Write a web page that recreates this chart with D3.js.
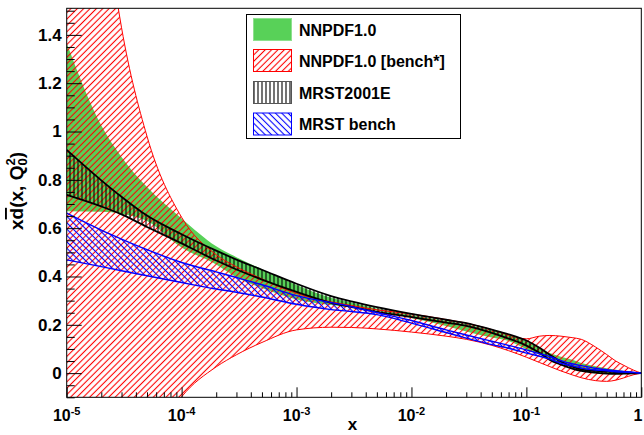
<!DOCTYPE html>
<html><head><meta charset="utf-8">
<script src="https://cdn.jsdelivr.net/npm/d3@7"></script>
<style>
body{margin:0;background:#fff}
svg{display:block}
text{font-family:"Liberation Sans",Arial,Helvetica,sans-serif;font-weight:bold;fill:#000}
</style>
</head><body>
<svg id="c" width="644" height="435"></svg>
<script>
// ---- data ----
const xValues = [1e-5, 2e-5, 3e-5, 5e-5, 1e-4, 2e-4, 3e-4, 5e-4, 1e-3, 2e-3, 3e-3, 5e-3, 0.01, 0.02, 0.03, 0.05, 0.07, 0.1, 0.13, 0.16, 0.2, 0.25, 0.3, 0.4, 0.5, 0.6, 0.7, 0.85, 1];

const nnpdfUpper = [1.365, 1.025, 0.895, 0.77, 0.64, 0.525, 0.48, 0.43, 0.365, 0.312, 0.292, 0.268, 0.24, 0.217, 0.202, 0.176, 0.162, 0.131, 0.103, 0.083, 0.068, 0.055, 0.042, 0.028, 0.02, 0.014, 0.009, 0.004, 0];
const nnpdfLower = [0.67, 0.668, 0.66, 0.63, 0.52, 0.45, 0.397, 0.352, 0.305, 0.282, 0.272, 0.258, 0.228, 0.195, 0.172, 0.147, 0.133, 0.099, 0.076, 0.055, 0.041, 0.025, 0.01, 0.0, -0.003, -0.003, -0.003, -0.001, 0];

const benchUpper = [3.2, 2.0, 1.43, 0.98, 0.645, 0.49, 0.44, 0.39, 0.33, 0.295, 0.28, 0.262, 0.245, 0.222, 0.207, 0.18, 0.158, 0.142, 0.153, 0.156, 0.153, 0.147, 0.14, 0.108, 0.077, 0.05, 0.033, 0.013, 0];
const benchLower = [-1.4, -0.85, -0.6, -0.33, -0.098, 0.026, 0.076, 0.127, 0.179, 0.19, 0.189, 0.183, 0.17, 0.153, 0.14, 0.115, 0.093, 0.066, 0.044, 0.027, 0.009, -0.007, -0.019, -0.031, -0.034, -0.029, -0.02, -0.007, 0];

const mrstUpper = [0.924, 0.798, 0.73, 0.652, 0.575, 0.507, 0.47, 0.428, 0.37, 0.319, 0.297, 0.273, 0.245, 0.221, 0.207, 0.18, 0.161, 0.135, 0.105, 0.076, 0.048, 0.027, 0.016, 0.009, 0.006, 0.004, 0.003, 0.001, 0];
const mrstLower = [0.738, 0.69, 0.657, 0.605, 0.537, 0.466, 0.429, 0.387, 0.336, 0.291, 0.274, 0.254, 0.232, 0.209, 0.196, 0.167, 0.143, 0.114, 0.084, 0.055, 0.035, 0.019, 0.009, 0.002, -0.002, -0.003, -0.002, -0.001, 0];

const mrstBenchUpper = [0.662, 0.592, 0.555, 0.511, 0.458, 0.419, 0.396, 0.366, 0.321, 0.292, 0.275, 0.251, 0.218, 0.179, 0.158, 0.132, 0.115, 0.096, 0.081, 0.069, 0.052, 0.039, 0.031, 0.02, 0.014, 0.01, 0.007, 0.004, 0];
const mrstBenchLower = [0.469, 0.441, 0.424, 0.403, 0.375, 0.348, 0.335, 0.315, 0.285, 0.263, 0.255, 0.242, 0.207, 0.168, 0.145, 0.118, 0.103, 0.083, 0.07, 0.058, 0.041, 0.03, 0.021, 0.013, 0.01, 0.006, 0.004, 0.002, 0];

const yTickValues = [0, 0.2, 0.4, 0.6, 0.8, 1, 1.2, 1.4];
const yTickLabels = ["0", "0.2", "0.4", "0.6", "0.8", "1", "1.2", "1.4"];
const xTickValues = [1e-5, 1e-4, 1e-3, 1e-2, 1e-1, 1];
const xTickBases = ["10", "10", "10", "10", "10", "1"];
const xTickExps = ["-5", "-4", "-3", "-2", "-1", ""];
const legendLabels = ["NNPDF1.0", "NNPDF1.0 [bench*]", "MRST2001E", "MRST bench"];

// ---- drawing ----
const GREEN = "#58d158";
const svg = d3.select("#c");
const W = 644;
const L = 66.7, R = 641.3, T = 8.3, B = 397.3;
const x = d3.scaleLog().domain([1e-5, 1]).range([L, R]);
const y = d3.scaleLinear().domain([-0.1, 1.51]).range([B, T]);

const defs = svg.append("defs");
function hatch(id, color, angle, gap) {
  const p = defs.append("pattern").attr("id", id).attr("patternUnits", "userSpaceOnUse")
    .attr("width", gap).attr("height", 10).attr("patternTransform", `rotate(${angle})`);
  p.append("line").attr("x1", gap / 2).attr("x2", gap / 2).attr("y1", -1).attr("y2", 11)
    .attr("stroke", color).attr("stroke-width", 1.1);
}
hatch("hRed", "#ff0000", 45, 4.5);
hatch("hBlue", "#0000ff", -45, 4.5);
hatch("hBlack", "#000000", 0, 4);
defs.append("clipPath").attr("id", "clip").append("rect")
  .attr("x", L).attr("y", T).attr("width", R - L).attr("height", B - T);

const idx = d3.range(xValues.length);
function area(up, lo) {
  return d3.area().x(i => x(xValues[i])).y0(i => y(lo[i])).y1(i => y(up[i])).curve(d3.curveMonotoneX)(idx);
}
function edge(v) {
  return d3.line().x(i => x(xValues[i])).y(i => y(v[i])).curve(d3.curveMonotoneX)(idx);
}

const plot = svg.append("g").attr("clip-path", "url(#clip)");
plot.append("path").attr("d", area(nnpdfUpper, nnpdfLower)).attr("fill", GREEN);
plot.append("path").attr("d", area(benchUpper, benchLower)).attr("fill", "url(#hRed)");
plot.append("path").attr("d", area(mrstUpper, mrstLower)).attr("fill", "url(#hBlack)");
plot.append("path").attr("d", area(mrstBenchUpper, mrstBenchLower)).attr("fill", "url(#hBlue)");
[[benchUpper, "#ff0000", 1], [benchLower, "#ff0000", 1],
 [mrstUpper, "#000", 1.8], [mrstLower, "#000", 1.8],
 [mrstBenchUpper, "#0000ff", 1.4], [mrstBenchLower, "#0000ff", 1.4]].forEach(([v, c, w]) => {
  plot.append("path").attr("d", edge(v)).attr("fill", "none").attr("stroke", c).attr("stroke-width", w);
});

// axes
const yMinor = d3.range(-0.1, 1.5001, 0.05).map(v => Math.round(v * 100) / 100)
  .filter(v => !yTickValues.some(t => Math.abs(t - v) < 1e-6));
const yAx = svg.append("g").attr("transform", `translate(${L},0)`)
  .call(d3.axisLeft(y).tickValues(yTickValues).tickSizeInner(-15).tickSizeOuter(0).tickPadding(5)
    .tickFormat((d, i) => yTickLabels[i]));
svg.append("g").attr("transform", `translate(${L},0)`)
  .call(d3.axisLeft(y).tickValues(yMinor).tickSizeInner(-8).tickSizeOuter(0).tickFormat(""));
const xMinor = [];
for (let e = -5; e < 0; e++) for (let m = 2; m <= 9; m++) xMinor.push(m * Math.pow(10, e));
svg.append("g").attr("transform", `translate(0,${B})`)
  .call(d3.axisBottom(x).tickValues(xTickValues).tickSizeInner(-10).tickSizeOuter(0).tickFormat(""));
svg.append("g").attr("transform", `translate(0,${B})`)
  .call(d3.axisBottom(x).tickValues(xMinor).tickSizeInner(-5).tickSizeOuter(0).tickFormat(""));
svg.selectAll(".domain").remove();
svg.selectAll(".tick line").attr("stroke", "#000").attr("stroke-width", 1);
yAx.selectAll("text").attr("font-size", 17).attr("font-family", null).attr("fill", "#000");

const xl = svg.append("g").selectAll("text").data(xTickValues).join("text")
  .attr("x", d => Math.min(x(d), W - 6)).attr("y", 421).attr("text-anchor", "middle").attr("font-size", 16);
xl.append("tspan").text((d, i) => xTickBases[i]);
xl.append("tspan").attr("dy", -6).attr("font-size", 11).text((d, i) => xTickExps[i]);

// frame
svg.append("rect").attr("x", L).attr("y", T).attr("width", R - L).attr("height", B - T)
  .attr("fill", "none").attr("stroke", "#000").attr("stroke-width", 1);

// axis titles
svg.append("text").attr("x", 352.5).attr("y", 430).attr("text-anchor", "middle").attr("font-size", 17).text("x");
const yt = svg.append("text").attr("transform", "translate(23,191) rotate(-90)").attr("text-anchor", "middle").attr("font-size", 19);
yt.append("tspan").text("x");
yt.append("tspan").attr("text-decoration", "overline").text("d");
yt.append("tspan").text("(x, Q");
yt.append("tspan").attr("font-size", 13).attr("dy", -8).text("2");
yt.append("tspan").attr("font-size", 13).attr("dx", -7.2).attr("dy", 12).text("0");
yt.append("tspan").attr("dy", -4).text(")");

// legend
const lg = svg.append("g");
lg.append("rect").attr("x", 246.5).attr("y", 14.5).attr("width", 214).attr("height", 124)
  .attr("fill", "#fff").attr("stroke", "#000").attr("stroke-width", 1);
const sw = [
  {fill: GREEN, stroke: "#8ee08e"},
  {fill: "url(#hRed)", stroke: "#ff0000"},
  {fill: "url(#hBlack)", stroke: "#555"},
  {fill: "url(#hBlue)", stroke: "#0000ff"}
];
const rowY = [29.5, 60.5, 92.5, 124];
legendLabels.forEach((lab, i) => {
  lg.append("rect").attr("x", 253.5).attr("y", rowY[i] - 11).attr("width", 38).attr("height", 22)
    .attr("fill", sw[i].fill).attr("stroke", sw[i].stroke).attr("stroke-width", 1);
  lg.append("text").attr("x", 299).attr("y", rowY[i] + 6).attr("font-size", 16).text(lab);
});
</script>
</body></html>
